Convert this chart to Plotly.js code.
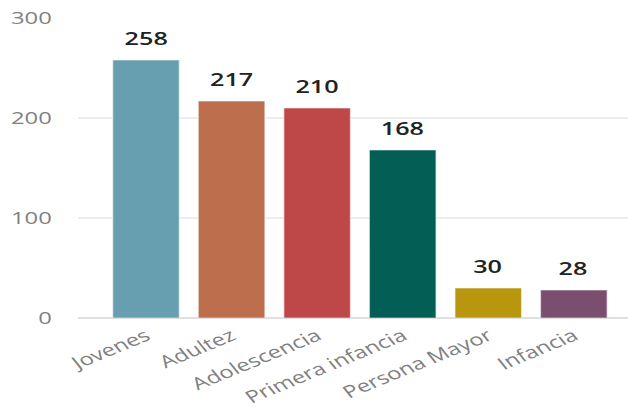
<!DOCTYPE html>
<html><head><meta charset="utf-8">
<script src="https://cdn.plot.ly/plotly-3.0.1.min.js"></script>
<style>
html,body{margin:0;padding:0;background:#fff;overflow:hidden}
#wrap{width:628px;height:409px;overflow:hidden}
#c{width:449px;height:409px;transform:scaleX(1.4);transform-origin:0 0}
</style>
</head><body><div id="wrap"><div id="c"></div></div>
<script>
const categories = ["Jovenes","Adultez","Adolescencia","Primera infancia","Persona Mayor","Infancia"];
const values = [258,217,210,168,30,28];
const colors = ["#679FB0","#BD6F4D","#BE4848","#035E55","#B8960E","#7A4E6F"];
const yTicks = [0,100,200,300];

const labelFont = {family:"Open Sans, DejaVu Sans", size:18, color:"#222", weight:600};
const annotations = categories.map((c,i)=>({
  x:c, y:values[i], xref:"x", yref:"y", text:String(values[i]),
  showarrow:false, yanchor:"bottom", xanchor:"center", yshift:8, font:labelFont
}));

Plotly.newPlot("c",[{
  type:"bar", x:categories, y:values,
  marker:{color:colors, line:{color:"rgba(255,255,255,0.55)", width:1}},
  width:0.78, hoverinfo:"none"
}],{
  width:449, height:409,
  margin:{l:56, r:0, t:18, b:91},
  paper_bgcolor:"#fff", plot_bgcolor:"#fff",
  showlegend:false,
  annotations:annotations,
  xaxis:{range:[-0.79,5.64], tickangle:-30, showgrid:false, showline:false, zeroline:false,
    ticks:"", ticklabelstandoff:4,
    tickfont:{family:"Open Sans, DejaVu Sans", size:17, color:"#7f8080"}},
  yaxis:{range:[0,300], tickvals:yTicks, showgrid:true, gridcolor:"#ececec", gridwidth:2,
    zeroline:true, zerolinecolor:"#e0e0e0", zerolinewidth:2, showline:false, ticks:"",
    ticklabelstandoff:18,
    tickfont:{family:"Open Sans, DejaVu Sans", size:17, color:"#7f8080"}}
},{staticPlot:true, displayModeBar:false});
</script></body></html>
